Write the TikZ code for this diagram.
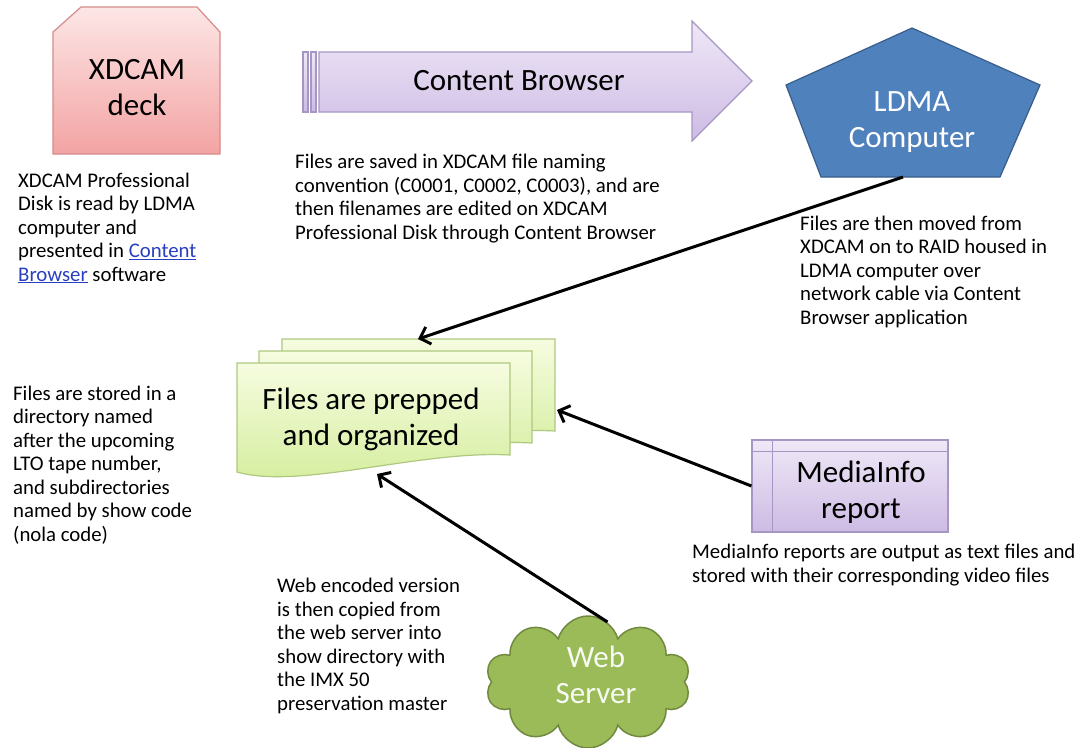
\documentclass[tikz,border=0pt]{standalone}
\usepackage{fontspec}
\setmainfont{Carlito}
\usetikzlibrary{arrows.meta,positioning,calc,shapes.symbols}

\definecolor{decktop}{HTML}{FDE6E6}
\definecolor{deckbot}{HTML}{F3A3A3}
\definecolor{deckline}{HTML}{D58C8B}
\definecolor{lavtop}{HTML}{EFE8F7}
\definecolor{lavbot}{HTML}{CDBBE4}
\definecolor{lavline}{HTML}{A696C4}
\definecolor{doctop}{HTML}{F6FCE0}
\definecolor{docbot}{HTML}{D3ED9A}
\definecolor{docline}{HTML}{AFC77F}
\definecolor{ldmablue}{HTML}{4F81BD}
\definecolor{ldmaline}{HTML}{385D8A}
\definecolor{webgreen}{HTML}{9BBB59}
\definecolor{webline}{HTML}{71893F}
\definecolor{linkblue}{HTML}{2A3FBF}

\newcommand{\linktext}[1]{\textcolor{linkblue}{\underline{#1}}}

\begin{document}
\begin{tikzpicture}[x=1pt,y=-1pt,
        label/.style={
            font=\fontsize{31}{36}\selectfont,
            align=center,
            anchor=base,
            inner sep=0
        },
        note/.style={
            font=\fontsize{20.8}{23.5}\selectfont,
            align=left,
            anchor=base west,
            inner sep=0
        },
        deckbox/.style={draw=deckline, line width=1.2pt, top color=decktop, bottom color=deckbot},
        lavbox/.style={draw=lavline, line width=1.2pt, top color=lavtop, bottom color=lavbot},
        docbox/.style={draw=docline, line width=1.2pt, top color=doctop, bottom color=docbot},
        flow/.style={-{Straight Barb[length=9pt,width=18pt]}, line width=3pt}
    ]
    \useasboundingbox (0,0) rectangle (1078,747);

    % XDCAM deck
    \draw[deckbox] (53,32) -- (81,7) -- (197,7) -- (220,32) -- (220,154) -- (53,154) -- cycle;
    \node[label] (deck) at (137,115) {XDCAM\\deck};
    \node[note] (decknote) at (18,281)
        {XDCAM Professional\\Disk is read by LDMA\\computer and\\presented in \linktext{Content}\\\linktext{Browser} software};

    % Content Browser arrow
    \draw[lavbox] (303,52) rectangle (308,112);
    \draw[lavbox] (311,52) rectangle (316,112);
    \draw[lavbox] (319,52) -- (692,52) -- (692,21) -- (752,81) -- (692,141) -- (692,112) -- (319,112) -- cycle;
    \node[label] (browser) at (519,90) {Content Browser};
    \node[note] (browsernote) at (295,239)
        {Files are saved in XDCAM file naming\\convention (C0001, C0002, C0003), and are\\then filenames are edited on XDCAM\\Professional Disk through Content Browser};

    % LDMA computer
    \draw[fill=ldmablue, draw=ldmaline, line width=1.2pt]
        (912,28) -- (1040,85) -- (1000,177) -- (821,177) -- (786,85) -- cycle;
    \coordinate (ldmabase) at (903,177);
    \node[label, text=white] (ldma) at (912,147) {LDMA\\Computer};
    \node[note] (ldmanote) at (800,324)
        {Files are then moved from\\XDCAM on to RAID housed in\\LDMA computer over\\network cable via Content\\Browser application};

    % stacked files
    \foreach \dx/\dy in {45/-24, 22/-12, 0/0} {
        \draw[docbox, shift={(\dx,\dy)}]
            (237,363) -- (510,363) -- (510,455)
            .. controls (420,450) and (300,490) .. (237,472) -- cycle;
    }
    \coordinate (filestop) at (418,339);
    \coordinate (filesright) at (557,410);
    \coordinate (filesbottom) at (377,474);
    \node[label] (files) at (371,445) {Files are prepped\\and organized};
    \node[note] (filesnote) at (13,541)
        {Files are stored in a\\directory named\\after the upcoming\\LTO tape number,\\and subdirectories\\named by show code\\(nola code)};

    % MediaInfo report
    \node[lavbox, minimum width=196pt, minimum height=92pt, inner sep=0] (mediabox) at (850,486) {};
    \draw[lavline, line width=1.2pt] ([xshift=21pt]mediabox.north west) -- ([xshift=21pt]mediabox.south west);
    \draw[lavline, line width=1.2pt] ([yshift=-12pt]mediabox.north west) -- ([yshift=-12pt]mediabox.north east);
    \node[label] (media) at (861,518) {MediaInfo\\report};
    \node[note] (medianote) at (692,582)
        {MediaInfo reports are output as text files and\\stored with their corresponding video files};

    % Web server
    \node[cloud, cloud puffs=10, aspect=1.5, fill=webgreen, draw=webline, line width=1.5pt,
        minimum width=205pt, minimum height=132pt] (cloud) at (588,682) {};
    \node[label, text=white!92!webgreen] (web) at (596,703) {Web\\Server};
    \node[note] (webnote) at (277,710)
        {Web encoded version\\is then copied from\\the web server into\\show directory with\\the IMX 50\\preservation master};

    % connectors
    \draw[flow] (ldmabase) -- (filestop);
    \draw[flow] (mediabox.west) -- (filesright);
    \draw[flow] (cloud.72) -- (filesbottom);
\end{tikzpicture}
\end{document}
